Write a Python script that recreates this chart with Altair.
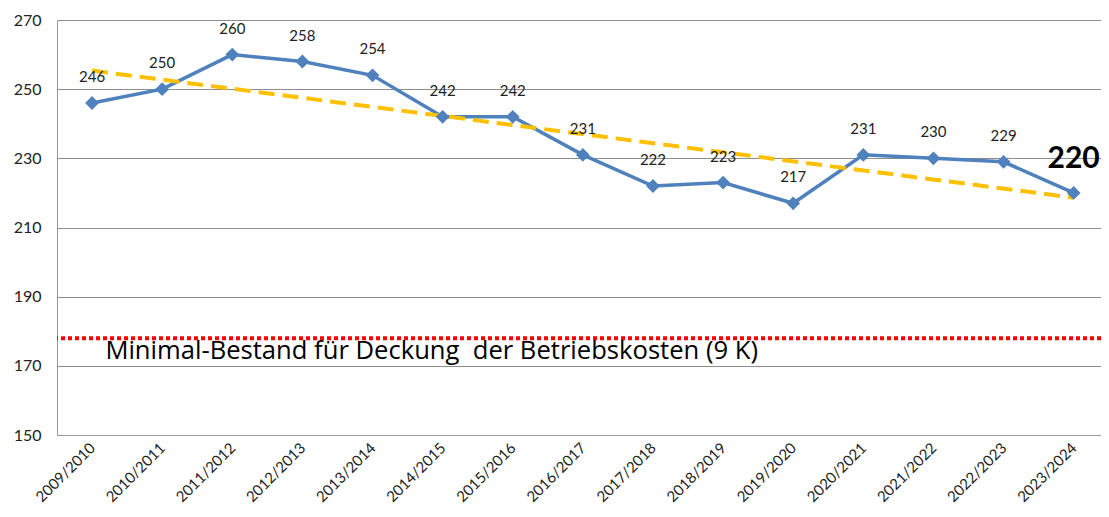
import altair as alt
import pandas as pd

seasons = ["2009/2010", "2010/2011", "2011/2012", "2012/2013", "2013/2014",
           "2014/2015", "2015/2016", "2016/2017", "2017/2018", "2018/2019",
           "2019/2020", "2020/2021", "2021/2022", "2022/2023", "2023/2024"]
values = [246, 250, 260, 258, 254, 242, 242, 231, 222, 223, 217, 231, 230, 229, 220]
min_level = 178
min_label = "Minimal-Bestand für Deckung \u00a0der Betriebskosten (9 K)"
min_label_pos = [0.19, 174.4]

FONT = "Lato"
idx = list(range(len(seasons)))
df = pd.DataFrame({"i": idx, "season": seasons, "value": values})
df_main = df.iloc[:-1]
df_last = df.iloc[-1:]

label_expr = "[" + ",".join(f"'{s}'" for s in seasons) + "][datum.value]"

x = alt.X("i:Q", scale=alt.Scale(domain=[-0.5, len(seasons) - 0.61], nice=False, zero=False),
          axis=alt.Axis(values=idx, labelExpr=label_expr, labelAngle=-45, labelAlign="right",
                        labelBaseline="middle", labelPadding=10, ticks=False, grid=False,
                        labelFontSize=15, labelFont=FONT, labelColor="#222", domainColor="#999",
                        title=None, labelOverlap=False))
y = alt.Y("value:Q", scale=alt.Scale(domain=[150, 270], nice=False, zero=False),
          axis=alt.Axis(values=list(range(150, 271, 20)), ticks=False, grid=True, gridColor="#8c8c8c",
                        labelFontSize=16, labelFont=FONT, labelColor="#222", labelPadding=16,
                        domainColor="#999", title=None))

base = alt.Chart(df)

line = base.mark_line(color="#4F81BD", strokeWidth=3.5).encode(x=x, y=y)
pts = base.mark_point(shape="diamond", filled=True, size=190, color="#4F81BD", opacity=1).encode(x="i:Q", y="value:Q")

trend = base.transform_regression("i", "value", extent=[0, len(seasons) - 1]).mark_line(
    color="#FFC000", strokeWidth=4, strokeDash=[16, 8]).encode(x="i:Q", y="value:Q")

labels = alt.Chart(df_main).mark_text(dy=-26, fontSize=15, font=FONT, color="#222").encode(
    x="i:Q", y="value:Q", text="value:Q")
last_label = alt.Chart(df_last).mark_text(dy=-34, fontSize=30, font=FONT, fontWeight="bold", color="#000").encode(
    x="i:Q", y="value:Q", text="value:Q")

minline = alt.Chart(pd.DataFrame({"y": [min_level]})).mark_rule(
    color="#FF0000", strokeWidth=4, strokeDash=[4, 3]).encode(y="y:Q")
mintext = alt.Chart(pd.DataFrame({"x": [min_label_pos[0]], "y": [min_label_pos[1]], "t": [min_label]})).mark_text(
    align="left", baseline="middle", fontSize=25.6, font="Open Sans", color="#000").encode(x="x:Q", y="y:Q", text="t:N")

chart = alt.layer(line, trend, pts, minline, mintext, labels, last_label).properties(
    width=1044, height=415, autosize=alt.AutoSizeParams(type="none"),
    padding={"left": 49, "top": 12, "right": 0, "bottom": 72}
).configure_view(stroke=None)

chart.save("out.html", embed_options={"renderer": "svg", "actions": False})
